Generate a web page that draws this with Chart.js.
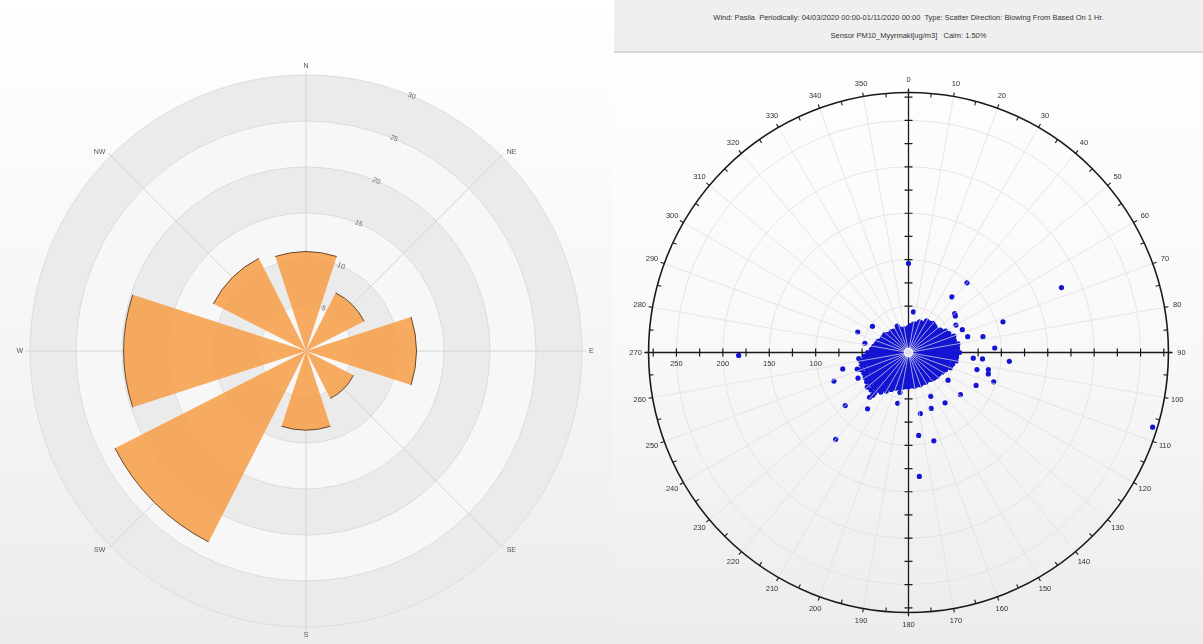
<!DOCTYPE html>
<html>
<head>
<meta charset="utf-8">
<title>Wind rose and PM10 scatter</title>
<script src="https://cdn.jsdelivr.net/npm/chart.js@4.4.1/dist/chart.umd.min.js"></script>
<style>
  html, body { margin: 0; padding: 0; width: 1203px; height: 644px; overflow: hidden; background: #fff; font-family: "Liberation Sans", Arial, sans-serif; }
  #rosePanel { position: absolute; left: 0; top: 0; width: 612px; height: 644px; background: linear-gradient(#ffffff, #f7f7f7 45%, #ececec); }
  #scatterPanel { position: absolute; left: 612px; top: 0; width: 591px; height: 644px; background: linear-gradient(#ffffff, #f9f9f9 50%, #ececec); }
  #header { position: absolute; left: 2px; top: 0; right: 0; height: 51px; background: #efefef; border-bottom: 2px solid #d9d9d9; color: #333; font-size: 7.5px; text-align: center; }
  #header .line { position: absolute; left: 0; right: 0; }
  #roseChart { position: absolute; left: 0; top: 0; }
  #scatterChart { position: absolute; left: 0; top: 53px; }
</style>
</head>
<body>
<div id="rosePanel"><canvas id="roseChart" width="612" height="644"></canvas></div>
<div id="scatterPanel">
  <div id="header">
    <div class="line" style="top: 13px;">Wind: Pasila&nbsp; Periodically: 04/03/2020 00:00-01/11/2020 00:00&nbsp; Type: Scatter Direction: Blowing From Based On 1 Hr.</div>
    <div class="line" style="top: 31px;">Sensor PM10_Myyrmaki[ug/m3]&nbsp;&nbsp; Calm: 1.50%</div>
  </div>
  <canvas id="scatterChart" width="591" height="591"></canvas>
</div>
<script>
Chart.defaults.font.family = '"Liberation Sans", Arial, sans-serif';

// Wind rose: share of hours per direction (%)
const roseDirections = ['N', 'NE', 'E', 'SE', 'S', 'SW', 'W', 'NW'];
const roseShares = [10.8, 7.1, 12.0, 5.8, 8.6, 23.3, 19.8, 11.3];
const roseRings = [5, 10, 15, 20, 25, 30];

// Scatter: wind direction (deg, blowing from) against PM10 (ug/m3)
const clusterDirections = [0, 5, 10, 15, 20, 25, 30, 35, 40, 45, 50, 55, 60, 65, 70, 75, 80, 85,
  90, 95, 100, 105, 110, 115, 120, 125, 130, 135, 140, 145, 150, 155, 160, 165, 170, 175,
  180, 185, 190, 195, 200, 205, 210, 215, 220, 225, 230, 235, 240, 245, 250, 255, 260, 265,
  270, 275, 280, 285, 290, 295, 300, 305, 310, 315, 320, 325, 330, 335, 340, 345, 350, 355];
const clusterValues = [
  [6, 9, 13, 16, 20, 23, 27], [25, 29],
  [6, 10, 13, 17, 20, 24, 27, 31], [24, 28, 32],
  [6, 9, 13, 16, 20, 24, 27, 31, 35], [24, 28, 31, 35],
  [6, 10, 13, 17, 21, 24, 28, 32, 35, 39], [24, 27, 31, 35, 39],
  [6, 10, 14, 17, 21, 25, 29, 33, 37, 41], [25, 28, 32, 36, 40],
  [6, 10, 13, 17, 21, 25, 28, 32, 36, 39], [24, 28, 31, 35, 39, 42],
  [6, 10, 14, 17, 21, 25, 29, 33, 36, 40, 43, 46], [25, 28, 32, 36, 40, 44, 48],
  [6, 10, 13, 17, 21, 25, 28, 32, 36, 40, 44, 48, 52], [24, 28, 32, 35, 39, 43, 47, 51],
  [6, 9, 13, 17, 21, 24, 28, 32, 36, 40, 43, 47, 51, 54], [25, 29, 33, 36, 40, 44, 48, 53],
  [6, 10, 14, 17, 21, 25, 29, 33, 37, 40, 44, 48, 52, 55], [24, 28, 32, 36, 40, 44, 48, 52],
  [6, 10, 13, 17, 21, 25, 29, 32, 36, 40, 44, 48, 52], [25, 28, 32, 36, 40, 44, 49],
  [6, 10, 14, 18, 21, 25, 29, 33, 37, 40, 44, 48], [24, 28, 32, 36, 40, 44],
  [6, 10, 13, 17, 21, 25, 28, 32, 36, 39, 42], [25, 29, 33, 37, 40],
  [6, 10, 14, 17, 21, 25, 29, 32, 36, 40], [24, 28, 32, 36, 39],
  [6, 10, 13, 17, 21, 24, 28, 31, 35, 38], [25, 29, 33, 36],
  [6, 9, 13, 17, 20, 24, 27, 31, 34, 37], [24, 28, 32, 36],
  [6, 10, 13, 17, 21, 24, 28, 31, 34, 37], [25, 29, 33, 36],
  [6, 10, 14, 17, 21, 25, 28, 32, 35, 37], [24, 28, 32, 36],
  [6, 9, 13, 16, 20, 24, 27, 31, 34, 37], [25, 29, 33, 37],
  [6, 10, 13, 17, 21, 24, 28, 31, 35, 38], [24, 28, 32, 36, 39],
  [6, 10, 14, 17, 21, 25, 29, 33, 37, 41], [25, 29, 33, 37, 41, 44],
  [6, 10, 13, 17, 21, 25, 29, 32, 36, 40, 44, 48], [24, 28, 32, 36, 40, 44, 48, 52],
  [6, 10, 14, 18, 22, 25, 29, 33, 37, 41, 45, 49, 53, 57, 60], [25, 29, 33, 37, 41, 45, 49, 53, 57],
  [6, 10, 13, 17, 21, 25, 29, 33, 37, 41, 45, 49, 53, 58], [24, 28, 32, 36, 40, 44, 48, 52, 55],
  [6, 10, 14, 17, 21, 25, 29, 33, 37, 41, 45, 50, 54], [25, 29, 33, 37, 41, 45, 49, 53],
  [6, 9, 13, 17, 21, 25, 29, 32, 36, 40, 44, 49, 54], [24, 28, 32, 36, 40, 44, 48, 52],
  [6, 10, 14, 18, 21, 25, 29, 33, 37, 41, 44, 48, 52], [25, 29, 33, 37, 41, 45, 48],
  [6, 10, 13, 17, 21, 25, 28, 32, 36, 40, 44], [24, 28, 32, 36, 40],
  [6, 10, 14, 17, 21, 25, 28, 31, 35, 38], [25, 29, 33, 36],
  [6, 9, 13, 17, 20, 24, 28, 31, 35], [24, 28, 32],
  [6, 10, 13, 17, 21, 24, 28, 32], [25, 28, 31],
  [6, 10, 13, 17, 20, 24, 27, 30], [24, 28],
  [6, 9, 13, 16, 20, 23, 26, 29], [25, 28],
  [6, 10, 13, 17, 20, 24, 27], [24, 27],
  [6, 9, 13, 16, 20, 23, 27], [25],
  [6, 10, 13, 16, 20, 23, 26], [24]
];
const outlierDirections = [0, 40, 67, 38, 50, 52, 72, 7, 60, 67, 78, 87, 95, 109, 116, 129, 144, 158, 169, 173,
  164, 175, 192, 216, 230, 220, 249, 256, 269, 107, 292, 306, 337, 282, 243, 252, 105, 102, 95, 104,
  125, 153, 75, 30, 42, 80, 95, 192, 221, 307, 263];
const outlierValues = [96, 98, 179, 76, 65, 64, 107, 44, 59, 63, 82, 93, 109, 97, 81, 72, 67, 65, 67, 90,
  99, 134, 56, 75, 89, 122, 86, 73, 183, 275, 59, 48, 31, 48, 61, 58, 89, 88, 80, 76,
  52, 53, 66, 39, 38, 51, 70, 44, 64, 32, 54];

const degreeLabels = [0, 10, 20, 30, 40, 50, 60, 70, 80, 90, 100, 110, 120, 130, 140, 150, 160, 170,
  180, 190, 200, 210, 220, 230, 240, 250, 260, 270, 280, 290, 300, 310, 320, 330, 340, 350];
const radialLabels = [250, 200, 150, 100, 50];
const gridCircles = [50, 100, 150, 200, 250];
const axisTicks = [25, 50, 75, 100, 125, 150, 175, 200, 225, 250, 275];
const RADIAL_MAX = 280;

// ---------- wind rose ----------
// sectors are 36 deg wide with 9 deg gaps; sequence starts half a gap past north-east's left edge
const SECTOR = 36, GAP = 9;
const roseData = [0], roseAngles = [GAP / 2], roseLabels = [''];
for (let k = 1; k <= 8; k++) {
  const i = k % 8;
  roseData.push(roseShares[i]); roseAngles.push(SECTOR); roseLabels.push(roseDirections[i]);
  roseData.push(0); roseAngles.push(k < 8 ? GAP : GAP / 2); roseLabels.push('');
}

const roseFrame = {
  id: 'roseFrame',
  beforeDraw(chart) {
    const r = chart.scales.r, ctx = chart.ctx;
    ctx.save();
    for (let i = roseRings.length - 1; i >= 0; i--) {
      ctx.beginPath();
      ctx.arc(r.xCenter, r.yCenter, r.getDistanceFromCenterForValue(roseRings[i]), 0, Math.PI * 2);
      ctx.fillStyle = i % 2 ? '#ebebeb' : '#f7f7f7';
      ctx.fill();
    }
    ctx.restore();
  },
  beforeDatasetsDraw(chart) {
    const r = chart.scales.r, ctx = chart.ctx;
    const outer = r.getDistanceFromCenterForValue(30);
    ctx.save();
    ctx.strokeStyle = '#d4d4d4';
    ctx.lineWidth = 1;
    ctx.font = '7px "Liberation Sans", Arial, sans-serif';
    ctx.fillStyle = '#555';
    roseDirections.forEach((name, i) => {
      const a = (i * 45 - 90) * Math.PI / 180;
      const cos = Math.cos(a), sin = Math.sin(a);
      ctx.beginPath();
      ctx.moveTo(r.xCenter, r.yCenter);
      ctx.lineTo(r.xCenter + cos * (outer + 4), r.yCenter + sin * (outer + 4));
      ctx.stroke();
      const d = outer + 5;
      ctx.textAlign = cos > 0.1 ? 'left' : cos < -0.1 ? 'right' : 'center';
      ctx.textBaseline = Math.abs(cos) > 0.1 ? 'middle' : sin < 0 ? 'bottom' : 'top';
      ctx.fillText(name, r.xCenter + cos * d + (cos > 0.1 ? 2 : cos < -0.1 ? -2 : 0), r.yCenter + sin * d);
    });
    ctx.restore();
  },
  afterDatasetsDraw(chart) {
    const ctx = chart.ctx;
    ctx.save();
    ctx.strokeStyle = '#6b4526';
    ctx.lineWidth = 1;
    chart.getDatasetMeta(0).data.forEach((arc, i) => {
      if (!roseData[i]) return;
      const p = arc.getProps(['x', 'y', 'startAngle', 'endAngle', 'outerRadius'], true);
      ctx.beginPath();
      ctx.arc(p.x, p.y, p.outerRadius, p.startAngle, p.endAngle);
      ctx.stroke();
    });
    ctx.restore();
  }
};

new Chart(document.getElementById('roseChart'), {
  type: 'polarArea',
  data: {
    labels: roseLabels,
    datasets: [{
      data: roseData,
      angle: (c) => roseAngles[c.dataIndex],
      backgroundColor: 'rgba(247, 157, 70, 0.85)',
      borderWidth: 0
    }]
  },
  options: {
    responsive: false,
    animation: false,
    layout: { padding: { top: 72, bottom: 13, left: 0, right: 0 } },
    plugins: { legend: { display: false }, tooltip: { enabled: false } },
    scales: {
      r: {
        startAngle: 22.5,
        min: 0,
        max: 30,
        ticks: { stepSize: 5, font: { size: 7 }, color: '#666', showLabelBackdrop: false, backdropPadding: 0 },
        grid: { circular: true, color: '#dcdcdc' },
        angleLines: { display: false },
        pointLabels: { display: false }
      }
    }
  },
  plugins: [roseFrame]
});

// ---------- polar scatter ----------
const toXY = (deg, v) => ({ x: v * Math.sin(deg * Math.PI / 180), y: v * Math.cos(deg * Math.PI / 180) });
const scatterPoints = [];
clusterDirections.forEach((d, i) => clusterValues[i].forEach(v => scatterPoints.push(toXY(d, v))));
outlierDirections.forEach((d, i) => scatterPoints.push(toXY(d, outlierValues[i])));

function polarGeometry(chart) {
  const { x, y } = chart.scales;
  const cx = x.getPixelForValue(0), cy = y.getPixelForValue(0);
  const radius = v => x.getPixelForValue(v) - cx;
  const dirPoint = (deg, dist) => {
    const a = (deg - 90) * Math.PI / 180;
    return [cx + Math.cos(a) * dist, cy + Math.sin(a) * dist];
  };
  return { cx, cy, radius, dirPoint, R: radius(RADIAL_MAX) };
}

const polarFrame = {
  id: 'polarFrame',
  // grid circles, frame, axes and labels sit under the points
  beforeDatasetsDraw(chart) {
    const ctx = chart.ctx;
    const { cx, cy, radius, dirPoint, R } = polarGeometry(chart);
    ctx.save();

    ctx.strokeStyle = '#e0e0e0';
    ctx.lineWidth = 0.8;
    gridCircles.forEach(v => {
      ctx.beginPath();
      ctx.arc(cx, cy, radius(v), 0, Math.PI * 2);
      ctx.stroke();
    });

    // outer ring with direction ticks
    ctx.strokeStyle = '#1a1a1a';
    ctx.lineWidth = 1.6;
    ctx.beginPath();
    ctx.arc(cx, cy, R, 0, Math.PI * 2);
    ctx.stroke();
    ctx.lineWidth = 1.1;
    for (let d = 0; d < 360; d += 5) {
      const major = d % 10 === 0;
      const [x0, y0] = dirPoint(d, major ? R : R - 4);
      const [x1, y1] = dirPoint(d, major ? R + 4 : R);
      ctx.beginPath();
      ctx.moveTo(x0, y0);
      ctx.lineTo(x1, y1);
      ctx.stroke();
    }

    // cross axes with ticks every 25
    ctx.lineWidth = 1.3;
    ctx.beginPath();
    ctx.moveTo(cx, cy - R - 3); ctx.lineTo(cx, cy + R + 3);
    ctx.moveTo(cx - R - 4, cy); ctx.lineTo(cx + R + 4, cy);
    ctx.stroke();
    ctx.lineWidth = 1.2;
    axisTicks.forEach(v => {
      const r = radius(v);
      ctx.beginPath();
      [-1, 1].forEach(s => {
        ctx.moveTo(cx + s * r, cy - 4); ctx.lineTo(cx + s * r, cy + 4);
        ctx.moveTo(cx - 4, cy + s * r); ctx.lineTo(cx + 4, cy + s * r);
      });
      ctx.stroke();
    });

    // labels
    ctx.fillStyle = '#333';
    ctx.font = '7.5px "Liberation Sans", Arial, sans-serif';
    ctx.textAlign = 'center';
    ctx.textBaseline = 'middle';
    degreeLabels.forEach(d => {
      const [lx, ly] = dirPoint(d, R + 13);
      ctx.fillText(String(d), lx, ly);
    });
    radialLabels.forEach(v => {
      ctx.fillText(String(v), cx - radius(v), cy + 11);
    });
    ctx.restore();
  },
  // light spokes are laid over the points, then the calm circle
  afterDatasetsDraw(chart) {
    const ctx = chart.ctx;
    const { cx, cy, dirPoint, R } = polarGeometry(chart);
    ctx.save();
    ctx.strokeStyle = 'rgba(222, 222, 228, 0.9)';
    ctx.lineWidth = 0.8;
    degreeLabels.forEach(d => {
      if (d % 90 === 0) return;
      const [ex, ey] = dirPoint(d, R - 1);
      ctx.beginPath();
      ctx.moveTo(cx, cy);
      ctx.lineTo(ex, ey);
      ctx.stroke();
    });

    ctx.beginPath();
    ctx.arc(cx, cy, 4, 0, Math.PI * 2);
    ctx.fillStyle = 'rgba(230, 230, 245, 0.7)';
    ctx.fill();
    ctx.strokeStyle = '#ffffff';
    ctx.lineWidth = 1.4;
    ctx.stroke();
    ctx.restore();
  }
};

new Chart(document.getElementById('scatterChart'), {
  type: 'scatter',
  data: {
    datasets: [{
      data: scatterPoints,
      pointRadius: 2.6,
      pointHoverRadius: 2.6,
      pointBackgroundColor: '#1414d2',
      pointBorderWidth: 0
    }]
  },
  options: {
    responsive: false,
    animation: false,
    layout: { padding: { left: 18, right: 16, top: 21, bottom: 13 } },
    plugins: { legend: { display: false }, tooltip: { enabled: false } },
    scales: {
      x: { type: 'linear', min: -300, max: 300, display: false },
      y: { type: 'linear', min: -300, max: 300, display: false }
    }
  },
  plugins: [polarFrame]
});
</script>
</body>
</html>
